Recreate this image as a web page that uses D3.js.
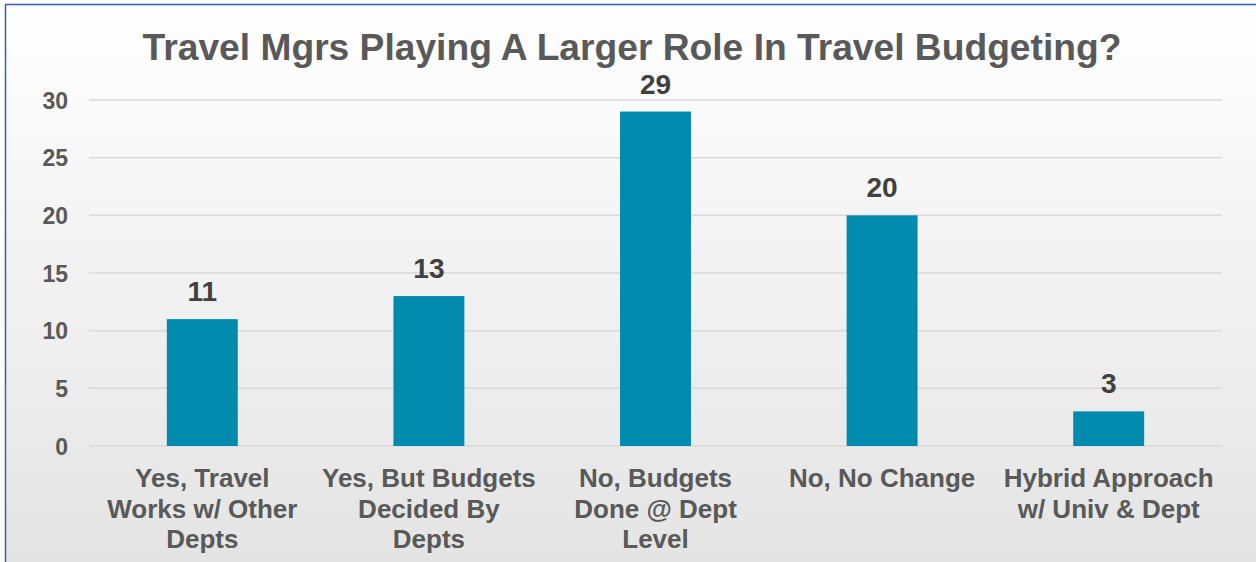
<!DOCTYPE html>
<html>
<head>
<meta charset="utf-8">
<script src="https://cdn.jsdelivr.net/npm/d3@7"></script>
<style>
  html, body { margin: 0; padding: 0; background: #ffffff; }
  svg { display: block; }
  text { font-family: "Liberation Sans", Arial, sans-serif; font-weight: bold; }
</style>
</head>
<body>
<svg id="chart" width="1256" height="562"></svg>
<script>
// Survey responses: are travel managers taking a larger role in budgeting?
const categories = [
  ["Yes, Travel", "Works w/ Other", "Depts"],
  ["Yes, But Budgets", "Decided By", "Depts"],
  ["No, Budgets", "Done @ Dept", "Level"],
  ["No, No Change"],
  ["Hybrid Approach", "w/ Univ & Dept"]
];
const counts = [11, 13, 29, 20, 3];
const yTicks = [0, 5, 10, 15, 20, 25, 30];
const titleText = "Travel Mgrs Playing A Larger Role In Travel Budgeting?";

const W = 1256, H = 562;
const margin = { top: 100, right: 34, bottom: 116, left: 89 };
const svg = d3.select("#chart");

// Panel background: soft vertical gradient with a blue frame on top/left
const defs = svg.append("defs");
const grad = defs.append("linearGradient").attr("id", "bg").attr("x1", 0).attr("y1", 0).attr("x2", 0).attr("y2", 1);
grad.append("stop").attr("offset", "0%").attr("stop-color", "#ffffff");
grad.append("stop").attr("offset", "100%").attr("stop-color", "#e4e4e4");
svg.append("rect").attr("x", 5).attr("y", 4).attr("width", W - 5).attr("height", H - 4).attr("fill", "url(#bg)");
svg.append("line").attr("x1", 5).attr("x2", W).attr("y1", 4.5).attr("y2", 4.5).attr("stroke", "#3a5fa8").attr("stroke-width", 1.5);
svg.append("line").attr("x1", 5.5).attr("x2", 5.5).attr("y1", 4).attr("y2", H).attr("stroke", "#3a5fa8").attr("stroke-width", 1.5);

const x = d3.scaleBand()
  .domain(d3.range(counts.length))
  .range([margin.left, W - margin.right])
  .paddingInner(0.687)
  .paddingOuter(0.3435);

const y = d3.scaleLinear().domain([0, 30]).range([446, 100]);

// Gridlines
svg.append("g")
  .selectAll("line")
  .data(yTicks)
  .join("line")
  .attr("x1", margin.left).attr("x2", W - margin.right)
  .attr("y1", d => y(d)).attr("y2", d => y(d))
  .attr("stroke", "#d9d9d9").attr("stroke-width", 1.5);

// Y axis labels
const yAxis = d3.axisLeft(y).tickValues(yTicks).tickSize(0).tickPadding(21);
const ya = svg.append("g").attr("transform", `translate(${margin.left},0)`).call(yAxis);
ya.select(".domain").remove();
ya.selectAll("text")
  .attr("font-size", 23)
  .attr("font-family", "Liberation Sans, Arial, sans-serif")
  .attr("font-weight", "bold")
  .attr("fill", "#595959")
  .attr("dy", "0.36em");

// Bars
svg.append("g")
  .selectAll("rect")
  .data(counts)
  .join("rect")
  .attr("x", (d, i) => x(i))
  .attr("width", x.bandwidth())
  .attr("y", d => y(d))
  .attr("height", d => y(0) - y(d))
  .attr("fill", "#008aad");

// Value labels
svg.append("g")
  .selectAll("text")
  .data(counts)
  .join("text")
  .attr("text-anchor", "middle")
  .attr("font-size", 28)
  .attr("fill", "#404040")
  .attr("transform", (d, i) => `translate(${x(i) + x.bandwidth() / 2},${y(d) - 18})`)
  .text(d => d);

// Category labels (multi-line)
const cat = svg.append("g")
  .selectAll("text")
  .data(categories)
  .join("text")
  .attr("text-anchor", "middle")
  .attr("font-size", 26)
  .attr("fill", "#595959")
  .attr("transform", (d, i) => `translate(${x(i) + x.bandwidth() / 2},487)`);
cat.selectAll("tspan")
  .data(d => d)
  .join("tspan")
  .attr("x", 0)
  .attr("y", (d, j) => j * 30.5)
  .text(d => d);

// Title
svg.append("text")
  .attr("text-anchor", "middle")
  .attr("font-size", 37.2)
  .attr("fill", "#595959")
  .attr("transform", "translate(632,60)")
  .text(titleText);
</script>
</body>
</html>
